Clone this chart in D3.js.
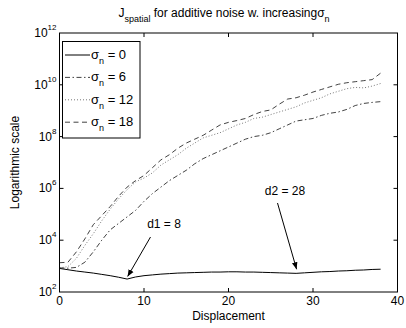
<!DOCTYPE html>
<html>
<head>
<meta charset="utf-8">
<script src="https://cdn.jsdelivr.net/npm/d3@7"></script>
<style>
  body { margin: 0; background: #fff; }
  svg { display: block; font-family: "Liberation Sans", Arial, Helvetica, sans-serif; }
</style>
</head>
<body>
<div id="chart"></div>
<script>
const width = 406;
const height = 328;

// displacement 0..38, values given as log10 exponents
const displacement = d3.range(0, 39);
const sigma0 = [2.91, 2.86, 2.81, 2.77, 2.73, 2.68, 2.63, 2.57, 2.50, 2.58, 2.63, 2.66, 2.69, 2.71, 2.73, 2.74, 2.75, 2.76, 2.77, 2.77,
  2.78, 2.78, 2.77, 2.77, 2.76, 2.75, 2.74, 2.73, 2.72, 2.74, 2.76, 2.78, 2.79, 2.81, 2.82, 2.84, 2.85, 2.87, 2.88];
const sigma6 = [2.93, 2.92, 2.95, 3.15, 3.55, 4.0, 4.4, 4.65, 4.9, 5.15, 5.5, 5.8, 6.05, 6.3, 6.5, 6.7, 6.95, 7.15, 7.3, 7.45,
  7.6, 7.75, 7.9, 8.0, 8.05, 8.15, 8.3, 8.45, 8.6, 8.65, 8.7, 8.82, 8.9, 8.95, 9.05, 9.2, 9.28, 9.32, 9.35];
const sigma12 = [2.93, 2.98, 3.3, 3.8, 4.25, 4.75, 5.2, 5.6, 5.95, 6.25, 6.4, 6.6, 6.9, 7.1, 7.3, 7.55, 7.75, 7.95, 8.05, 8.15,
  8.3, 8.45, 8.55, 8.7, 8.75, 8.85, 8.95, 9.05, 9.15, 9.3, 9.4, 9.5, 9.65, 9.75, 9.85, 9.9, 9.88, 9.95, 10.05];
const sigma18 = [3.13, 3.15, 3.55, 4.05, 4.6, 4.95, 5.3, 5.7, 6.05, 6.3, 6.5, 6.8, 7.1, 7.3, 7.55, 7.75, 7.9, 8.05, 8.25, 8.45,
  8.55, 8.62, 8.7, 8.85, 8.97, 9.03, 9.25, 9.45, 9.5, 9.6, 9.72, 9.82, 9.92, 10.02, 10.08, 10.12, 10.16, 10.2, 10.45];

const seriesNames = ['0', '6', '12', '18'];
const xTicks = [0, 10, 20, 30, 40];
const yExponents = [2, 4, 6, 8, 10, 12];

const margin = { left: 59.5, right: 8.5, top: 33, bottom: 36 };

const svg = d3.select('#chart').append('svg')
  .attr('width', width)
  .attr('height', height);

const x = d3.scaleLinear().domain([0, 40]).range([margin.left, width - margin.right]);
const y = d3.scaleLog().domain([1e2, 1e12]).range([height - margin.bottom, margin.top]);

const series = [
  { name: seriesNames[0], vals: sigma0, dash: null, color: '#000', w: 1 },
  { name: seriesNames[1], vals: sigma6, dash: '5,2.5,1.5,2.5', color: '#111', w: 0.8 },
  { name: seriesNames[2], vals: sigma12, dash: '1,2', color: '#555', w: 0.8 },
  { name: seriesNames[3], vals: sigma18, dash: '5,3.5', color: '#111', w: 0.8 }
];

const line = d3.line()
  .x((d, i) => x(displacement[i]))
  .y(d => y(Math.pow(10, d)));

series.forEach(s => {
  svg.append('path')
    .datum(s.vals)
    .attr('d', line)
    .attr('fill', 'none')
    .attr('stroke', s.color)
    .attr('stroke-width', s.w)
    .attr('stroke-dasharray', s.dash);
});

// box
const x0 = x(0), x1 = x(40), y0 = y(1e2), y1 = y(1e12);
svg.append('rect')
  .attr('x', x0).attr('y', y1)
  .attr('width', x1 - x0).attr('height', y0 - y1)
  .attr('fill', 'none').attr('stroke', '#000').attr('stroke-width', 1);

// ticks (inward, both sides)
const tl = 4;
xTicks.slice(1, -1).forEach(t => {
  svg.append('line').attr('x1', x(t)).attr('x2', x(t)).attr('y1', y0).attr('y2', y0 - tl).attr('stroke', '#000');
  svg.append('line').attr('x1', x(t)).attr('x2', x(t)).attr('y1', y1).attr('y2', y1 + tl).attr('stroke', '#000');
});
yExponents.slice(1, -1).forEach(e => {
  const yy = y(Math.pow(10, e));
  svg.append('line').attr('x1', x0).attr('x2', x0 + tl).attr('y1', yy).attr('y2', yy).attr('stroke', '#000');
  svg.append('line').attr('x1', x1).attr('x2', x1 - tl).attr('y1', yy).attr('y2', yy).attr('stroke', '#000');
});

// tick labels
xTicks.forEach(t => {
  svg.append('text')
    .attr('x', x(t)).attr('y', y0 + 13)
    .attr('text-anchor', 'middle')
    .style('font-size', '12px')
    .text(t);
});
yExponents.forEach(e => {
  const yy = y(Math.pow(10, e));
  const t = svg.append('text')
    .attr('x', x0 - 3).attr('y', yy + 4)
    .attr('text-anchor', 'end')
    .style('font-size', '12px');
  t.append('tspan').text('10');
  t.append('tspan').attr('dy', -7).style('font-size', '8px').text(e);
});

// axis labels
svg.append('text')
  .attr('x', (x0 + x1) / 2).attr('y', 319.5)
  .attr('text-anchor', 'middle')
  .style('font-size', '12px')
  .text('Displacement');

svg.append('text')
  .attr('transform', `translate(19, ${(y0 + y1) / 2}) rotate(-90)`)
  .attr('text-anchor', 'middle')
  .style('font-size', '12px')
  .text('Logarithmic scale');

// title
const title = svg.append('text')
  .attr('x', 224).attr('y', 17)
  .attr('text-anchor', 'middle')
  .style('font-size', '12px');
title.append('tspan').text('J');
title.append('tspan').attr('dy', 5).style('font-size', '9px').text('spatial');
title.append('tspan').attr('dy', -5).text(' for additive noise w. increasing');
title.append('tspan').text('σ');
title.append('tspan').attr('dy', 5).style('font-size', '9px').text('n');

// legend
const legend = svg.append('g');
legend.append('rect')
  .attr('x', 62.5).attr('y', 41.5)
  .attr('width', 77.5).attr('height', 96.5)
  .attr('fill', '#fff').attr('stroke', '#000').attr('stroke-width', 1);

series.forEach((s, i) => {
  const ly = 55 + i * 22.4;
  legend.append('line')
    .attr('x1', 65).attr('x2', 90)
    .attr('y1', ly).attr('y2', ly)
    .attr('stroke', s.color)
    .attr('stroke-width', s.w)
    .attr('stroke-dasharray', s.dash);
  const t = legend.append('text')
    .attr('x', 91).attr('y', ly + 4)
    .style('font-size', '13px');
  t.append('tspan').text('σ');
  t.append('tspan').attr('dy', 5).style('font-size', '9px').text('n');
  t.append('tspan').attr('dy', -5).text(` = ${s.name}`);
});

// annotations
svg.append('defs').append('marker')
  .attr('id', 'arrow')
  .attr('viewBox', '0 0 10 10')
  .attr('refX', 10).attr('refY', 5)
  .attr('markerWidth', 7).attr('markerHeight', 7)
  .attr('markerUnits', 'userSpaceOnUse')
  .attr('orient', 'auto')
  .append('path')
  .attr('d', 'M0,1 L10,5 L0,9 Z')
  .attr('fill', '#000');

const notes = [
  { label: 'd1 = 8', tx: 164, ty: 228, from: [150.5, 237], to: [8, 2.52] },
  { label: 'd2 = 28', tx: 285, ty: 195, from: [277.5, 203], to: [28, 2.8] }
];
notes.forEach(n => {
  svg.append('text')
    .attr('x', n.tx).attr('y', n.ty)
    .attr('text-anchor', 'middle')
    .style('font-size', '12px')
    .text(n.label);
  svg.append('line')
    .attr('x1', n.from[0]).attr('y1', n.from[1])
    .attr('x2', x(n.to[0]) + 0.5).attr('y2', y(Math.pow(10, n.to[1])) - 2)
    .attr('stroke', '#000').attr('stroke-width', 1)
    .attr('marker-end', 'url(#arrow)');
});
</script>
</body>
</html>
